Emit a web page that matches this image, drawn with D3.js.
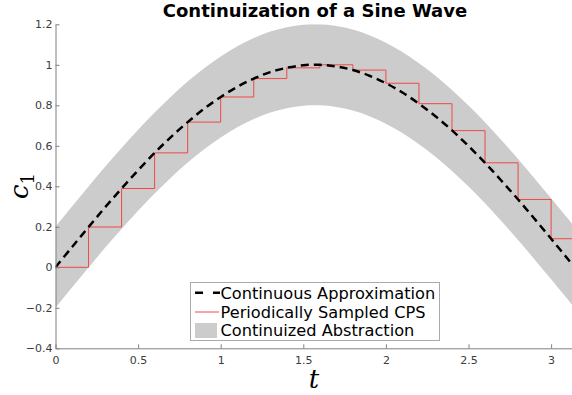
<!DOCTYPE html>
<html>
<head>
<meta charset="utf-8">
<script src="https://cdn.jsdelivr.net/npm/d3@7"></script>
<style>
  body { margin: 0; background: #fff; }
  svg { display: block; }
</style>
</head>
<body>
<div id="chart"></div>
<script>
// continuous curve, read at 0.1 steps
var curveT = [0, 0.1, 0.2, 0.3, 0.4, 0.5, 0.6, 0.7, 0.8, 0.9, 1.0, 1.1, 1.2, 1.3, 1.4, 1.5,
  1.6, 1.7, 1.8, 1.9, 2.0, 2.1, 2.2, 2.3, 2.4, 2.5, 2.6, 2.7, 2.8, 2.9, 3.0, 3.1, 3.1416];
var curveC = [0, 0.100, 0.199, 0.296, 0.389, 0.479, 0.565, 0.644, 0.717, 0.783, 0.841, 0.891,
  0.932, 0.964, 0.985, 0.998, 1.000, 0.992, 0.974, 0.946, 0.909, 0.863, 0.808, 0.746, 0.676,
  0.599, 0.516, 0.427, 0.335, 0.239, 0.141, 0.042, 0];
var bandHalf = 0.2;

// periodic samples (held until next sample)
var sampleT = [0, 0.2, 0.4, 0.6, 0.8, 1.0, 1.2, 1.4, 1.6, 1.8, 2.0, 2.2, 2.4, 2.6, 2.8, 3.0, 3.1416];
var sampleC = [0, 0.199, 0.389, 0.565, 0.717, 0.841, 0.932, 0.985, 1.000, 0.974, 0.909, 0.808,
  0.675, 0.516, 0.335, 0.141, 0.141];

var xTicks = [0, 0.5, 1, 1.5, 2, 2.5, 3];
var yTicks = [-0.4, -0.2, 0, 0.2, 0.4, 0.6, 0.8, 1, 1.2];
var legendLabels = ["Continuous Approximation", "Periodically Sampled CPS", "Continuized Abstraction"];

var width = 572, height = 395;
var x = d3.scaleLinear().domain([0, Math.PI]).range([55.5, 574.5]);
var y = d3.scaleLinear().domain([-0.4, 1.2]).range([348.3, 24.3]);

var svg = d3.select("#chart").append("svg")
  .attr("width", width).attr("height", height)
  .style("font-family", "DejaVu Sans, sans-serif");

svg.append("defs").append("clipPath").attr("id", "clip")
  .append("rect")
  .attr("x", x(0)).attr("y", y(1.2))
  .attr("width", x(Math.PI) - x(0)).attr("height", y(-0.4) - y(1.2));

var curve = curveT.map(function(t, i) { return { t: t, c: curveC[i] }; });
var samples = sampleT.map(function(t, i) { return { t: t, c: sampleC[i] }; });

var plot = svg.append("g").attr("clip-path", "url(#clip)");

var area = d3.area()
  .x(function(d) { return x(d.t); })
  .y0(function(d) { return y(d.c - bandHalf); })
  .y1(function(d) { return y(d.c + bandHalf); })
  .curve(d3.curveCatmullRom);

plot.append("path").datum(curve)
  .attr("d", area)
  .attr("fill", "#cccccc");

var step = d3.line()
  .x(function(d) { return x(d.t); })
  .y(function(d) { return y(d.c); })
  .curve(d3.curveStepAfter);

plot.append("path").datum(samples)
  .attr("d", step)
  .attr("fill", "none")
  .attr("stroke", "#f04848")
  .attr("stroke-width", 1);

var line = d3.line()
  .x(function(d) { return x(d.t); })
  .y(function(d) { return y(d.c); })
  .curve(d3.curveCatmullRom);

plot.append("path").datum(curve)
  .attr("d", line)
  .attr("fill", "none")
  .attr("stroke", "#000")
  .attr("stroke-width", 2.5)
  .attr("stroke-dasharray", "8,5");

// axes
var axisColor = "#808080";
var xAxis = svg.append("g")
  .attr("transform", "translate(0," + y(-0.4) + ")")
  .call(d3.axisBottom(x).tickValues(xTicks).tickSizeInner(-4).tickSizeOuter(0)
    .tickFormat(d3.format("")));
var yAxis = svg.append("g")
  .attr("transform", "translate(" + x(0) + ",0)")
  .call(d3.axisLeft(y).tickValues(yTicks).tickSizeInner(-4).tickSizeOuter(0)
    .tickFormat(d3.format("")));

[xAxis, yAxis].forEach(function(a) {
  a.select(".domain").attr("stroke", axisColor);
  a.selectAll(".tick line").attr("stroke", axisColor);
  a.selectAll(".tick text")
    .attr("fill", "#3c3c3c")
    .style("font-size", "11px")
    .style("font-family", "DejaVu Sans, sans-serif");
});
xAxis.selectAll(".tick text").attr("y", 8);
yAxis.selectAll(".tick text").attr("x", -3);

// title
svg.append("text")
  .attr("x", 315).attr("y", 17)
  .attr("text-anchor", "middle")
  .style("font-size", "18px")
  .style("font-weight", "bold")
  .text("Continuization of a Sine Wave");

// axis labels
svg.append("text")
  .attr("x", 314).attr("y", 388)
  .attr("text-anchor", "middle")
  .style("font-family", "DejaVu Serif, serif")
  .style("font-style", "italic")
  .style("font-size", "26px")
  .text("t");

var yl = svg.append("text")
  .attr("transform", "translate(28,186) rotate(-90)")
  .attr("text-anchor", "middle")
  .style("font-family", "DejaVu Serif, serif")
  .style("font-size", "26px");
yl.append("tspan").style("font-style", "italic").text("c");
yl.append("tspan").attr("dy", 6).style("font-size", "18px").text("1");

// legend
var leg = svg.append("g");
leg.append("rect")
  .attr("x", 190.5).attr("y", 282.5).attr("width", 249).attr("height", 58)
  .attr("fill", "#fff").attr("stroke", "#aaaaaa").attr("stroke-width", 1);

var rowY = [292.7, 312, 330.5];
leg.append("line")
  .attr("x1", 195).attr("x2", 220).attr("y1", rowY[0]).attr("y2", rowY[0])
  .attr("stroke", "#000").attr("stroke-width", 2.5)
  .attr("stroke-dasharray", "8,10,7");
leg.append("line")
  .attr("x1", 195).attr("x2", 219).attr("y1", rowY[1]).attr("y2", rowY[1])
  .attr("stroke", "#f04848").attr("stroke-width", 1);
leg.append("rect")
  .attr("x", 195).attr("y", rowY[2] - 7.5).attr("width", 22).attr("height", 15)
  .attr("fill", "#cccccc");

leg.selectAll("text.lab").data(legendLabels).enter().append("text")
  .attr("class", "lab")
  .attr("x", 220.5)
  .attr("y", function(d, i) { return rowY[i]; })
  .attr("dy", "0.36em")
  .style("font-size", "16.2px")
  .text(function(d) { return d; });
</script>
</body>
</html>
